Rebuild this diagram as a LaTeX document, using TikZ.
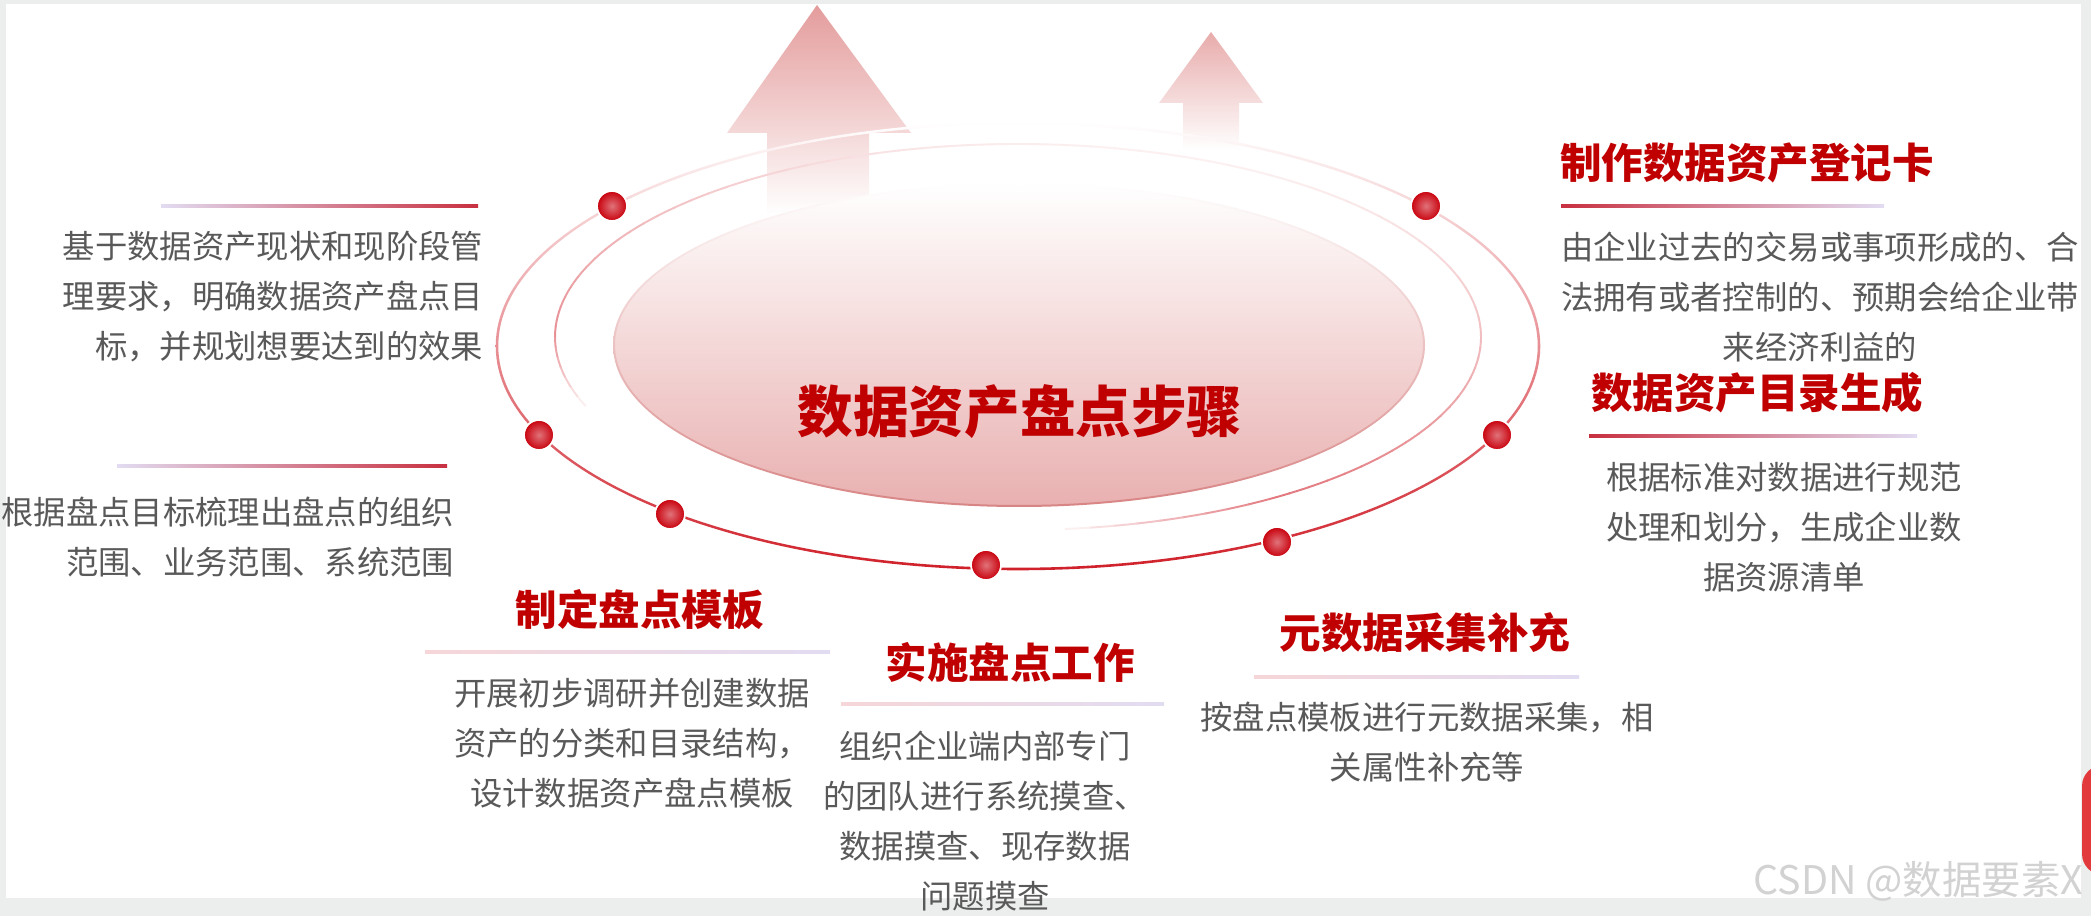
\documentclass[tikz,border=0pt]{standalone}
\usepackage{fontspec}
\newfontfamily\cjk{Noto Sans CJK SC}
\definecolor{titlered}{HTML}{C00000}
\definecolor{ink}{HTML}{595959}
\definecolor{ringred}{HTML}{D0202A}
\definecolor{dotred}{HTML}{C8000C}
\definecolor{rulered}{HTML}{C83040}
\definecolor{lav}{HTML}{E2DCF2}
\definecolor{blush}{HTML}{F6D6D8}
\definecolor{rose}{HTML}{E9B0B0}
\definecolor{rim}{HTML}{D88484}
\definecolor{arrowpink}{HTML}{E49C9C}
\definecolor{slide}{HTML}{ECEDED}
\definecolor{wmgray}{HTML}{D2D2D2}
\definecolor{blobred}{HTML}{E2393C}

\begin{document}
\begin{tikzpicture}[x=0.01cm,y=-0.01cm,
 title/.style={font=\cjk\bfseries\fontsize{11.8pt}{14pt}\selectfont,text=titlered,inner sep=0},
 desc/.style={font=\cjk\fontsize{9.2pt}{14.23pt}\selectfont,text=ink,inner sep=0},
 bead/.style={circle,minimum size=0.3cm,inner sep=0,inner color=dotred!55!white,outer color=dotred,draw=white,line width=0.5pt}]
 \useasboundingbox (0,0) rectangle (2091,916);
 \clip (0,0) rectangle (2091,916);
 % slide and background
 \fill[slide] (0,0) rectangle (2091,916);
 \fill[white] (6,4) rectangle (2081,898);
 % rising arrows
 \shade[top color=arrowpink,bottom color=white] (817,5)--(911,133)--(869,133)--(869,215)--(767,215)--(767,133)--(727,133)--cycle;
 \shade[top color=arrowpink!85!white,bottom color=white] (1211,32)--(1263,103)--(1239,103)--(1239,150)--(1183,150)--(1183,103)--(1159,103)--cycle;
 % outer ring
 \shade[top color=white,bottom color=ringred,even odd rule] (1018,346) ellipse[x radius=522.3,y radius=224.3] (1018,346) ellipse[x radius=519.7,y radius=221.7];
 % inner ring, open at lower left
 \foreach \t in {156,159,...,441}{
  \pgfmathsetmacro\f{min(1,(\t-156)/24,(444-\t)/30)}
  \pgfmathsetmacro\p{(40+32*sin(\t)-10*cos(\t))*\f}
  \draw[ringred!\p!white,line width=0.55pt] ({1018+463*cos(\t)},{337+193*sin(\t)}) arc[start angle=\t,end angle=\t+3.2,x radius=463,y radius=193];
 }
 % centre disc
 \shade[top color=white,bottom color=rose] (1019,345) ellipse[x radius=405,y radius=161];
 \shade[top color=white,bottom color=rim,even odd rule] (1019,345) ellipse[x radius=406,y radius=162] (1019,345) ellipse[x radius=404,y radius=160];
 \node[font=\cjk\bfseries\fontsize{15.8pt}{18pt}\selectfont,text=titlered,inner sep=0] (hub) at (1020,412) {数据资产盘点步骤};
 % beads on the outer ring
 \node[bead] (b1) at (612,206) {};
 \node[bead] (b2) at (539,435) {};
 \node[bead] (b3) at (670,514) {};
 \node[bead] (b4) at (986,565) {};
 \node[bead] (b5) at (1277,542) {};
 \node[bead] (b6) at (1497,435) {};
 \node[bead] (b7) at (1426,206) {};
 % left side
 \shade[left color=lav,right color=rulered] (161,205) rectangle (478,208);
 \node[desc,align=right,anchor=east] (goal) at (484,297) {基于数据资产现状和现阶段管\\理要求，明确数据资产盘点目\\标，并规划想要达到的效果};
 \shade[left color=lav,right color=rulered] (117,465) rectangle (447,468);
 \node[desc,align=right,anchor=east] (scope) at (455,537) {根据盘点目标梳理出盘点的组织\\范围、业务范围、系统范围};
 % bottom
 \node[title] (tmpl) at (640,610) {制定盘点模板};
 \shade[left color=blush,middle color=rulered,right color=lav] (425,651) rectangle (830,654);
 \node[desc,align=center] (tmpld) at (632,743) {开展初步调研并创建数据\\资产的分类和目录结构，\\设计数据资产盘点模板};
 \node[title] (work) at (1010,662) {实施盘点工作};
 \shade[left color=blush,middle color=rulered,right color=lav] (841,703) rectangle (1164,706);
 \node[desc,align=center] (workd) at (985,821) {组织企业端内部专门\\的团队进行系统摸查、\\数据摸查、现存数据\\问题摸查};
 \node[title] (meta) at (1425,633) {元数据采集补充};
 \shade[left color=blush,middle color=rulered,right color=lav] (1254,676) rectangle (1579,679);
 \node[desc,align=center] (metad) at (1427,742) {按盘点模板进行元数据采集，相\\关属性补充等};
 % right side
 \node[title] (card) at (1747,163) {制作数据资产登记卡};
 \shade[left color=rulered,right color=lav] (1561,205) rectangle (1884,208);
 \node[desc,align=center] (cardd) at (1820,297) {由企业过去的交易或事项形成的、合\\法拥有或者控制的、预期会给企业带\\来经济利益的};
 \node[title] (cat) at (1757,393) {数据资产目录生成};
 \shade[left color=rulered,right color=lav] (1589,435) rectangle (1917,438);
 \node[desc,align=center] (catd) at (1784,527) {根据标准对数据进行规范\\处理和划分，生成企业数\\据资源清单};
 % edge of the next slide and watermark
 \fill[blobred,rounded corners=6] (2082,765) rectangle (2130,875);
 \node[font=\cjk\fontsize{11.2pt}{12pt}\selectfont,text=wmgray,anchor=west,inner sep=0] (wm) at (1753,881) {CSDN @数据要素X};
\end{tikzpicture}
\end{document}
